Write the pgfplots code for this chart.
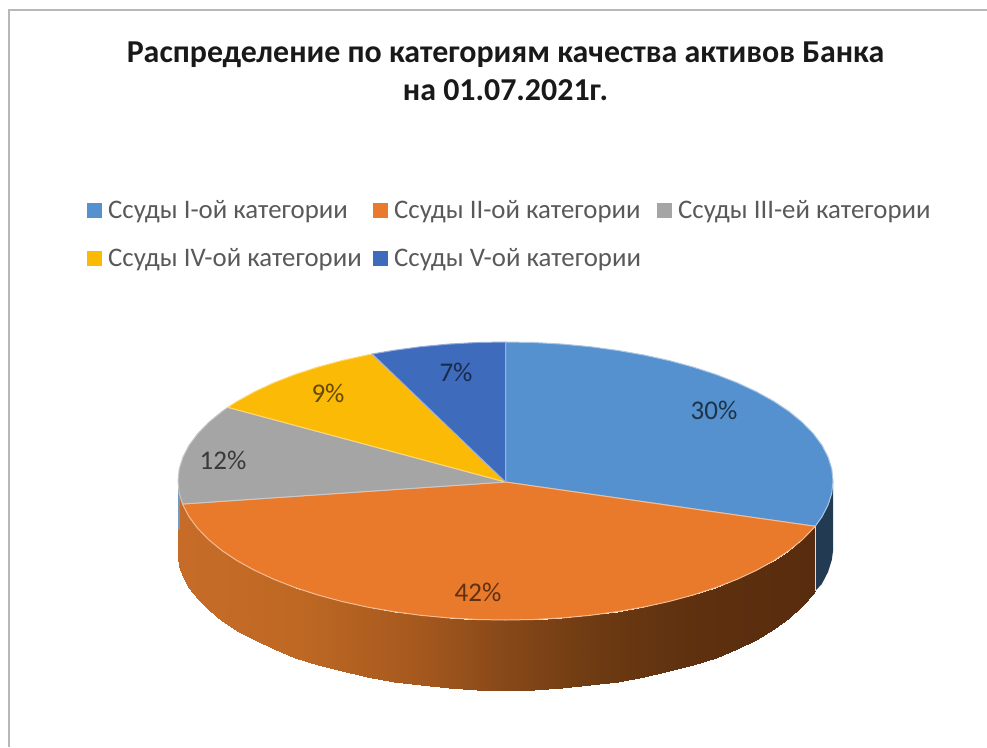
\documentclass[border=0pt]{standalone}
\usepackage{fontspec}
\setmainfont{Carlito}
\usepackage{pgfplots}
\pgfplotsset{compat=1.18}
\definecolor{sliceA}{HTML}{5591CE}
\definecolor{sliceB}{HTML}{E97A2B}
\definecolor{sliceC}{HTML}{A5A5A5}
\definecolor{sliceD}{HTML}{FBBA05}
\definecolor{sliceE}{HTML}{3F6BBD}
\definecolor{legtext}{HTML}{595959}
\newcommand{\legfont}{\fontsize{26.8}{27}\selectfont\color{legtext}}
\newcommand{\pctfont}{\fontsize{27}{27}\selectfont}
\begin{document}
\begin{tikzpicture}
\begin{axis}[
    scale only axis,
    width=987pt, height=747pt,
    xmin=0, xmax=987, ymin=0, ymax=747,
    y dir=reverse,
    hide axis,
    colormap={wall}{rgb255(183)=(198,108,40); rgb255(300)=(190,104,36); rgb255(420)=(165,88,30); rgb255(505)=(135,72,24); rgb255(600)=(108,58,18); rgb255(700)=(94,48,15); rgb255(815)=(88,44,14)},
    point meta min=183, point meta max=815,
]
% keep the full page in the bounding box
\path (axis cs:0,0) rectangle (axis cs:987,747);
% chart border
\addplot[color=black!28, line width=1.5pt] coordinates {(9,747) (9,10) (987,10)};

% side wall, orange slice
\addplot[surf, shader=interp, mesh/rows=2, point meta=x] table {
x y
815.2 526.3
813.2 528.5
802.3 539.7
789.1 550.5
773.8 560.7
756.4 570.3
737.1 579.3
716 587.5
693.3 594.9
669.3 601.4
643.9 607
617.5 611.6
590.3 615.3
562.4 617.9
534 619.5
505.5 620
477 619.5
448.6 617.9
420.7 615.3
393.5 611.6
367.1 607
341.7 601.4
317.7 594.9
295 587.5
273.9 579.3
254.6 570.3
237.2 560.7
221.9 550.5
208.7 539.7
197.8 528.5
189.2 517
183 505.1
179.2 493.1
178 481

815.2 591
813.2 594
802.3 606
789.1 618
773.8 629
756.4 640.3
737.1 649.3
716 657.5
693.3 664.9
669.3 671.4
643.9 677
617.5 681.6
590.3 685.3
562.4 687.9
534 689.5
505.5 690
477 689.5
448.6 687.9
420.7 685.3
393.5 681.6
367.1 677
341.7 671.4
317.7 664.9
295 657.5
273.9 649.3
254.6 640.3
237.2 630.7
221.9 620.5
208.7 609.7
197.8 598.5
189.2 588
183 577
179.2 566
178 558
};
% side wall, first slice (dark blue)
\addplot[fill=sliceA!40!black, draw=none] coordinates {
(833,481) (831.8,493.1) (828,505.1) (821.8,517) (815.2,526.3)
(815.2,591) (821.8,584) (828,572) (831.8,560) (833,551)} -- cycle;
% grey-blue sliver at the left of the wall
\addplot[color=sliceA!60!sliceC, line width=1.5pt] coordinates {(179,490) (179,530)};
\addplot[color=sliceB!30!white, line width=0.8pt] coordinates {(815.2,526.3) (815.2,591)};

% top face
\addplot[fill=sliceA, draw=sliceA!50!white, line width=1pt] coordinates {
(505.5,482) (505.5,342) (534,342.5) (562.4,344.1) (590.3,346.7) (617.5,350.4) (643.9,355)
(669.3,360.6) (693.3,367.1) (716,374.5) (737.1,382.7) (756.4,391.7) (773.8,401.3)
(789.1,411.5) (802.3,422.3) (813.2,433.5) (821.8,445) (828,456.9) (831.8,468.9)
(833,481) (831.8,493.1) (828,505.1) (821.8,517) (815.2,526.3) (505.5,482)};
\addplot[fill=sliceB, draw=sliceB!50!white, line width=1pt] coordinates {
(505.5,482) (815.2,526.3) (813.2,528.5) (802.3,539.7) (789.1,550.5) (773.8,560.7)
(756.4,570.3) (737.1,579.3) (716,587.5) (693.3,594.9) (669.3,601.4) (643.9,607)
(617.5,611.6) (590.3,615.3) (562.4,617.9) (534,619.5) (505.5,620) (477,619.5)
(448.6,617.9) (420.7,615.3) (393.5,611.6) (367.1,607) (341.7,601.4) (317.7,594.9)
(295,587.5) (273.9,579.3) (254.6,570.3) (237.2,560.7) (221.9,550.5) (208.7,539.7)
(197.8,528.5) (189.2,517) (183,505.1) (182.5,504) (505.5,482)};
\addplot[fill=sliceC, draw=sliceC!60!white, line width=1pt] coordinates {
(505.5,482) (182.5,504) (179.2,493.1) (178,481) (179.2,468.9) (183,456.9) (189.2,445)
(197.8,433.5) (208.7,422.3) (221.9,411.5) (227.8,407.3) (505.5,482)};
\addplot[fill=sliceD, draw=sliceD!55!white, line width=1pt] coordinates {
(505.5,482) (227.8,407.3) (237.2,401.3) (254.6,391.7) (273.9,382.7) (295,374.5)
(317.7,367.1) (341.7,360.6) (367.1,355) (372.3,354) (505.5,482)};
\addplot[fill=sliceE, draw=sliceE!55!white, line width=1pt] coordinates {
(505.5,482) (372.3,354) (393.5,350.4) (420.7,346.7) (448.6,344.1) (477,342.5) (505.5,342) (505.5,482)};

% legend keys
\addplot[only marks, mark=square*, mark size=7pt, color=sliceA] coordinates {(94,210)};
\addplot[only marks, mark=square*, mark size=7pt, color=sliceB] coordinates {(380,210)};
\addplot[only marks, mark=square*, mark size=7pt, color=sliceC] coordinates {(664,210)};
\addplot[only marks, mark=square*, mark size=7pt, color=sliceD] coordinates {(94,258)};
\addplot[only marks, mark=square*, mark size=7pt, color=sliceE] coordinates {(380,258)};

% title
\node[anchor=base, font=\fontsize{31.9}{32}\selectfont\bfseries, text=black!90] at (axis cs:505.5,62) {Распределение по категориям качества активов Банка};
\node[anchor=base, font=\fontsize{31.9}{32}\selectfont\bfseries, text=black!90] at (axis cs:505.5,100) {на 01.07.2021г.};

% legend texts
\node[anchor=base west, inner sep=0pt] at (axis cs:108,218) {\legfont Ссуды I-ой категории};
\node[anchor=base west, inner sep=0pt] at (axis cs:394,218) {\legfont Ссуды II-ой категории};
\node[anchor=base west, inner sep=0pt] at (axis cs:678,218) {\legfont Ссуды III-ей категории};
\node[anchor=base west, inner sep=0pt] at (axis cs:108,266) {\legfont Ссуды IV-ой категории};
\node[anchor=base west, inner sep=0pt] at (axis cs:394,266) {\legfont Ссуды V-ой категории};

% slice labels
\node[text=sliceA!35!black] at (axis cs:714,410) {\pctfont 30\%};
\node[text=sliceB!40!black] at (axis cs:478,592) {\pctfont 42\%};
\node[text=sliceC!35!black] at (axis cs:223,460) {\pctfont 12\%};
\node[text=sliceD!40!black] at (axis cs:328,393) {\pctfont 9\%};
\node[text=sliceE!40!black] at (axis cs:456,372) {\pctfont 7\%};
\end{axis}
\end{tikzpicture}
\end{document}
